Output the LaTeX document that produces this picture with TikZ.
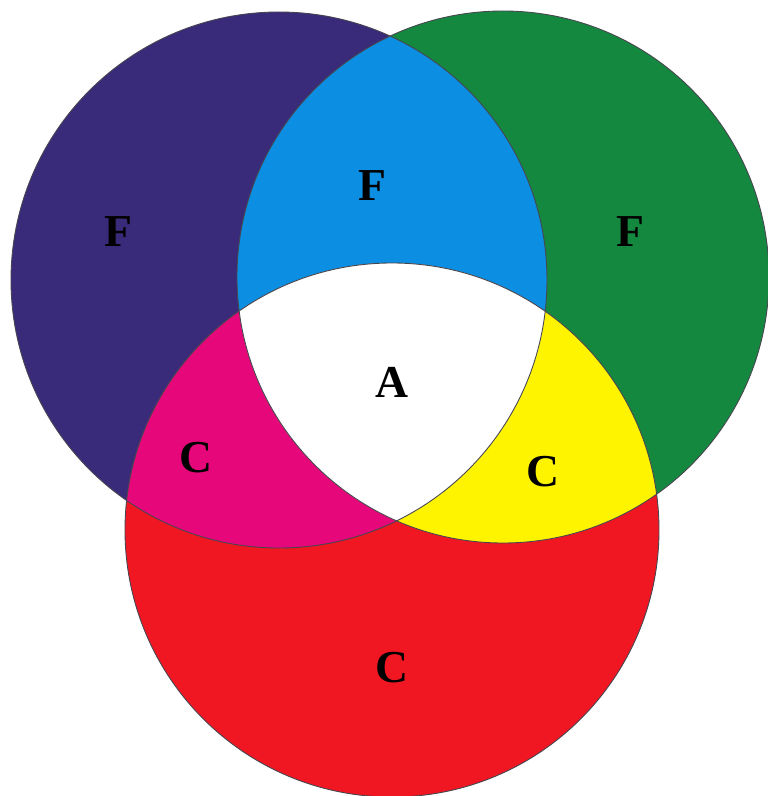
\documentclass[tikz,border=0pt]{standalone}
\usepackage{fontspec}
\setmainfont{Liberation Serif}
\usepackage{tikz}
\usetikzlibrary{positioning}

\definecolor{violetF}{RGB}{58,42,122}
\definecolor{greenF}{RGB}{20,136,62}
\definecolor{redC}{RGB}{240,22,34}
\definecolor{cyanF}{RGB}{12,142,226}
\definecolor{magentaC}{RGB}{230,8,122}
\definecolor{yellowC}{RGB}{255,244,0}
\definecolor{edge}{RGB}{70,70,80}

\tikzset{
    lbl/.style={font=\fontsize{26}{30}\selectfont\bfseries, text=black, inner sep=0pt},
    rim/.style={draw=edge, line width=0.5pt}
}

\begin{document}
\begin{tikzpicture}[x=0.02cm, y=0.02cm]
    \useasboundingbox (0,0) rectangle (768,796);
    \fill[white] (0,0) rectangle (768,796);

    % three primary discs
    \fill[violetF] (279,516) circle (268);
    \fill[greenF] (503,519) circle (266);
    \fill[redC] (392,266) circle (267);

    % pairwise overlaps
    \begin{scope}
        \clip (279,516) circle (268);
        \fill[cyanF] (503,519) circle (266);
        \fill[magentaC] (392,266) circle (267);
    \end{scope}
    \begin{scope}
        \clip (503,519) circle (266);
        \fill[yellowC] (392,266) circle (267);
    \end{scope}

    % centre, all three
    \begin{scope}
        \clip (279,516) circle (268);
        \clip (503,519) circle (266);
        \fill[white] (392,266) circle (267);
    \end{scope}

    \draw[rim] (279,516) circle (268);
    \draw[rim] (503,519) circle (266);
    \draw[rim] (392,266) circle (267);

    \node[lbl] (fViolet) at (118,564) {F};
    \node[lbl] (fCyan) at (372,610) {F};
    \node[lbl] (fGreen) at (630,564) {F};
    \node[lbl] (aWhite) at (392,414) {A};
    \node[lbl] (cMagenta) at (196,338) {C};
    \node[lbl] (cYellow) at (543,324) {C};
    \node[lbl] (cRed) at (392,128) {C};
\end{tikzpicture}
\end{document}
